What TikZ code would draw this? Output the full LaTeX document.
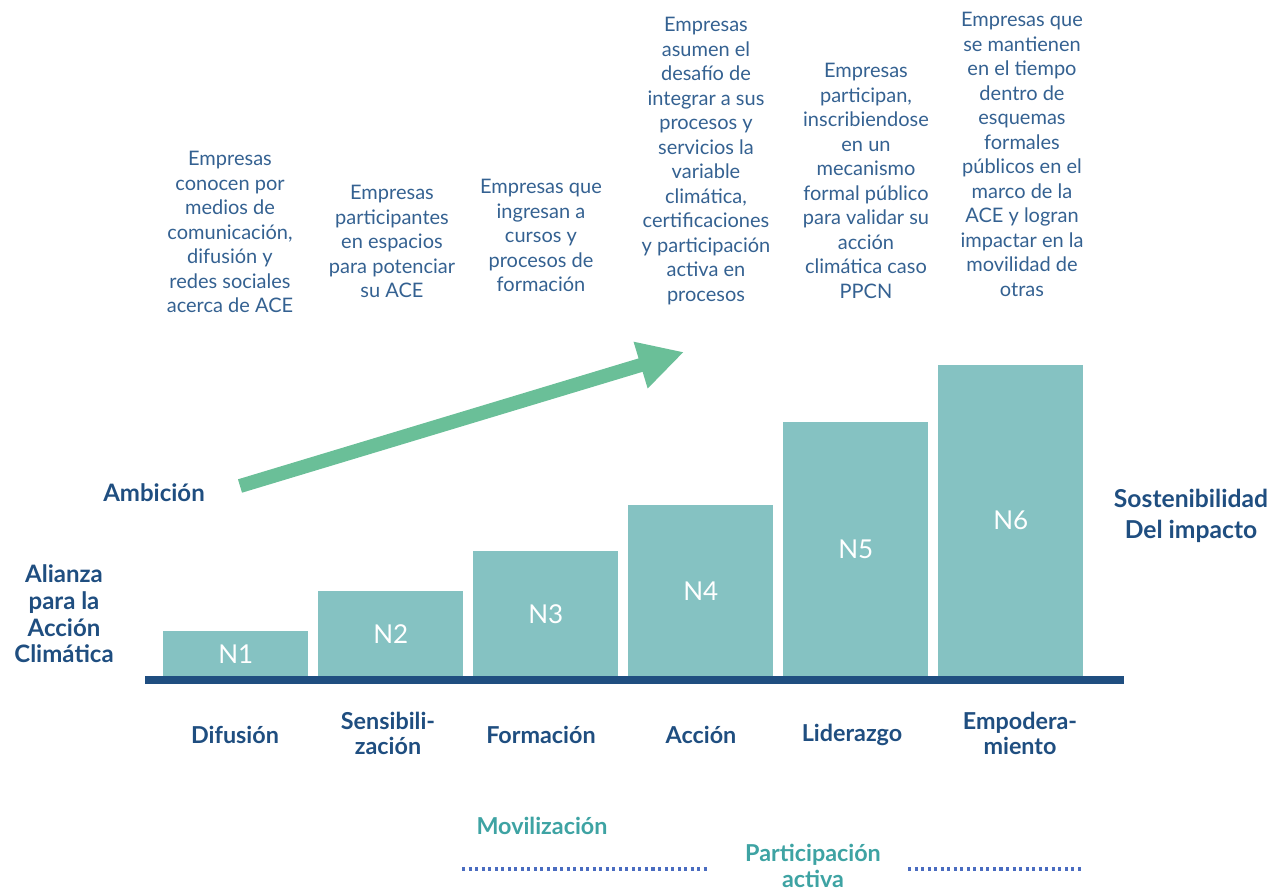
\documentclass[tikz,border=0pt]{standalone}
\usepackage{fontspec}
\setmainfont{Lato}
\usetikzlibrary{positioning,arrows.meta}

\definecolor{barteal}{RGB}{133,194,194}
\definecolor{navy}{RGB}{31,78,128}
\definecolor{infoblue}{RGB}{52,97,145}
\definecolor{ambgreen}{RGB}{106,191,152}
\definecolor{tealtext}{RGB}{62,163,163}
\definecolor{dotblue}{RGB}{74,108,192}

\begin{document}
\begin{tikzpicture}[
        x=0.75pt, y=-0.75pt,
        level/.style={
                rectangle,
                fill=barteal,
                anchor=south west,
                minimum width=108.75pt,
                inner sep=0pt,
                text=white,
                font=\fontsize{19.5}{19.5}\selectfont
            },
        info/.style={
                align=center,
                anchor=north,
                inner sep=0pt,
                text=infoblue,
                font=\fontsize{15}{18.4}\selectfont
            },
        stage/.style={
                align=center,
                inner sep=0pt,
                text=navy,
                font=\bfseries\fontsize{17.5}{18.8}\selectfont
            },
        side/.style={
                align=center,
                inner sep=0pt,
                text=navy,
                font=\bfseries\fontsize{18}{20}\selectfont
            },
        phase/.style={
                align=center,
                inner sep=0pt,
                text=tealtext,
                font=\bfseries\fontsize{17.5}{19.5}\selectfont
            },
        groundline/.style={draw=navy, line width=5.5pt},
        dotline/.style={draw=dotblue, line width=2.3pt, dash pattern=on 2.3pt off 2.6pt},
        ambition/.style={draw=ambgreen, line width=10.5pt, -{Triangle[length=34pt, width=34pt]}}
    ]
    \useasboundingbox (0,0) rectangle (1282,891);

    \node[level, minimum height=34.5pt]  (n1) at (163,677) {N1};
    \node[level, minimum height=64.5pt]  (n2) at (318,677) {N2};
    \node[level, minimum height=94.5pt]  (n3) at (473,677) {N3};
    \node[level, minimum height=129pt]   (n4) at (628,677) {N4};
    \node[level, minimum height=191.25pt] (n5) at (783,677) {N5};
    \node[level, minimum height=234pt]   (n6) at (938,677) {N6};
    \draw[groundline] (145,680) -- (1124,680);

    \node[info] (info1) at (230,151) {Empresas\\conocen por\\medios de\\comunicación,\\difusión y\\redes sociales\\acerca de ACE};
    \node[info] (info2) at (392,185) {Empresas\\participantes\\en espacios\\para potenciar\\su ACE};
    \node[info] (info3) at (541,179) {Empresas que\\ingresan a\\cursos y\\procesos de\\formación};
    \node[info] (info4) at (706,17)  {Empresas\\asumen el\\desafío de\\integrar a sus\\procesos y\\servicios la\\variable\\climática,\\certificaciones\\y participación\\activa en\\procesos};
    \node[info] (info5) at (866,63)  {Empresas\\participan,\\inscribiendose\\en un\\mecanismo\\formal público\\para validar su\\acción\\climática caso\\PPCN};
    \node[info] (info6) at (1022,12) {Empresas que\\se mantienen\\en el tiempo\\dentro de\\esquemas\\formales\\públicos en el\\marco de la\\ACE y logran\\impactar en la\\movilidad de\\otras};

    \node[stage] (difusion)   at (235,735)   {Difusión};
    \node[stage] (sensib)     at (388,733.5) {Sensibili-\\zación};
    \node[stage] (formacion)  at (541,735)   {Formación};
    \node[stage] (accion)     at (701,735)   {Acción};
    \node[stage] (liderazgo)  at (852,735)   {Liderazgo};
    \node[stage] (empodera)   at (1020,733.5) {Empodera-\\miento};

    \node[side] (ambicion) at (154,493) {Ambición};
    \node[side] (alianza)  at (64,614)  {Alianza\\para la\\Acción\\Climática};
    \node[side, font=\bfseries\fontsize{18.5}{23}\selectfont] (sosten) at (1191,516) {Sostenibilidad\\Del impacto};

    \coordinate (ambstart) at (240,486);
    \coordinate (ambend)   at (684,352);
    \draw[ambition] (ambstart) -- (ambend);

    \node[phase] (moviliza) at (542,826) {Movilización};
    \node[phase] (partic)   at (813,866) {Participación\\activa};
    \draw[dotline] (462,869) -- (710,869);
    \draw[dotline] (908,869) -- (1083,869);
\end{tikzpicture}
\end{document}
